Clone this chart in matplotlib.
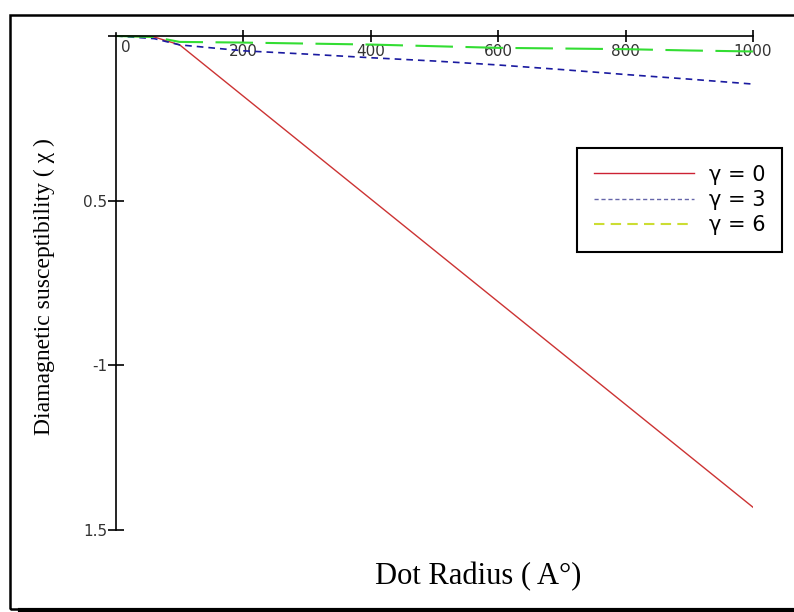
import matplotlib
matplotlib.use('Agg')
import matplotlib.pyplot as plt
from matplotlib.lines import Line2D
from matplotlib.patches import Rectangle

# Dot radius (A°) and diamagnetic susceptibility for three gamma values
radius = [0, 60, 100, 200, 300, 400, 500, 600, 700, 800, 900, 1000]
chi_g0 = [0, -0.003, -0.027, -0.183, -0.339, -0.495, -0.651, -0.807, -0.963, -1.119, -1.275, -1.431]
chi_g3 = [0, -0.008, -0.027, -0.045, -0.055, -0.066, -0.076, -0.088, -0.102, -0.117, -0.131, -0.146]
chi_g6 = [0, -0.003, -0.018, -0.020, -0.023, -0.026, -0.031, -0.036, -0.038, -0.040, -0.044, -0.047]

xticks = [200, 400, 600, 800, 1000]
xtick_labels = ['200', '400', '600', '800', '1000']
yticks = [0, -0.5, -1, -1.5]
ytick_labels = ['', '0.5', '-1', '1.5']
legend_labels = ['\u03b3 = 0', '\u03b3 = 3', '\u03b3 = 6']

W, H = 794, 612
fig = plt.figure(figsize=(W / 100, H / 100), dpi=100)
ax = fig.add_axes([116 / W, 1 - 530 / H, (753 - 116) / W, (530 - 32.7) / H])

ax.plot(radius, chi_g0, color='#cc3333', lw=1.0)
ax.plot(radius, chi_g3, color='#1a1aa0', lw=1.2, dashes=(4, 3))
ax.plot(radius, chi_g6, color='#33dd33', lw=1.5, dashes=(18, 6))

ax.set_xlim(0, 1000)
ax.set_ylim(-1.5, 0.01)

# x axis drawn along chi = 0 at the top, labels underneath
ax.spines['bottom'].set_position(('data', 0))
ax.spines['top'].set_visible(False)
ax.spines['right'].set_visible(False)
ax.spines['bottom'].set_linewidth(1.2)
ax.spines['left'].set_linewidth(1.2)

ax.set_xticks(xticks)
ax.set_xticklabels(xtick_labels)
ax.set_yticks(yticks)
ax.set_yticklabels(ytick_labels)
ax.tick_params(axis='x', direction='inout', length=9, width=1.2, pad=1,
               labelsize=11, labelcolor='#333333')
ax.tick_params(axis='y', direction='inout', length=11, width=1.2, pad=1,
               labelsize=11, labelcolor='#333333')
ax.text(8, -0.012, '0', fontsize=11, color='#333333', va='top', ha='left')

fig.text(478.5 / W, 1 - 577 / H, 'Dot Radius ( A\u00b0)', family='Liberation Serif',
         fontsize=22, ha='center', va='center')
fig.text(44 / W, 1 - 286.5 / H, 'Diamagnetic susceptibility ( \u03c7 )',
         family='Liberation Serif', fontsize=17, rotation=90, ha='center', va='center')

handles = [Line2D([], [], color='#cc2233', lw=1.0),
           Line2D([], [], color='#6666aa', lw=1.0, dashes=(3, 2)),
           Line2D([], [], color='#ccdd33', lw=1.5, dashes=(5, 3))]
leg = fig.legend(handles, legend_labels, loc='upper left',
                 bbox_to_anchor=(577 / W, 1 - 148 / H), bbox_transform=fig.transFigure,
                 fontsize=15, handlelength=4.8, handletextpad=0.72, labelspacing=0.25,
                 borderpad=0.8, borderaxespad=0, fancybox=False, framealpha=1)
leg.get_frame().set_edgecolor('black')
leg.get_frame().set_linewidth(1.5)

# outer frame around the figure
fig.patches.append(Rectangle((10 / W, 1 - 609 / H), 1.0, (609 - 15) / H,
                             transform=fig.transFigure, fill=False, lw=1.8, color='black'))
fig.lines.append(Line2D([20 / W, 1], [1 - 610 / H, 1 - 610 / H],
                        transform=fig.transFigure, lw=3, color='black'))

fig.savefig('out.png', dpi=100)
